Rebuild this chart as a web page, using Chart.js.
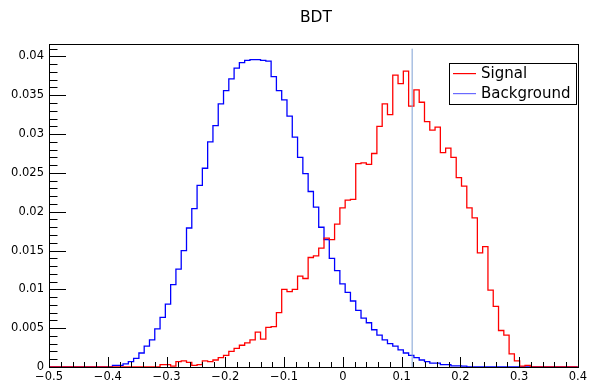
<!DOCTYPE html>
<html>
<head>
<meta charset="utf-8">
<script src="https://cdn.jsdelivr.net/npm/chart.js@4.4.1/dist/chart.umd.min.js"></script>
<style>
  html, body { margin:0; padding:0; background:#fff; }
  #wrap { width:590px; height:382px; }
</style>
</head>
<body>
<div id="wrap"><canvas id="bdt"></canvas></div>
<script>
/* ── BDT response histograms ── */
const X_MIN = -0.5, X_MAX = 0.4, N_BINS = 100;
const Y_MAX = 0.0416;
const CUT_VALUE = 0.118;
const TITLE = 'BDT';
const SERIES_NAMES = ['Signal', 'Background'];

const SIGNAL = [
  0,0,0,0,0,0,0,0,0,0, 0,0,0,0,0,0,0,0,0,0,
  0,0.0003,0.0003,0.0001,0.0007,0.0008,0.0006,0.0002,0.0003,0.0008,
  0.0007,0.0009,0.0012,0.0015,0.0020,0.0024,0.0028,0.0031,0.0035,0.0045,
  0.0036,0.0051,0.0052,0.0070,0.0100,0.0097,0.0100,0.0117,0.0114,0.0141,
  0.0143,0.0153,0.0166,0.0164,0.0184,0.0205,0.0215,0.0216,0.0262,0.0263,
  0.0261,0.0275,0.0310,0.0339,0.0325,0.0376,0.0365,0.0381,0.0336,0.0357,
  0.0341,0.0316,0.0305,0.0309,0.0276,0.0282,0.0270,0.0244,0.0233,0.0205,
  0.0192,0.0147,0.0155,0.0099,0.0078,0.0047,0.0041,0.0017,0.0008,0.0001,
  0.0002,0,0,0,0,0,0,0,0,0
];

const BACKGROUND = [
  0,0,0,0,0,0,0,0,0,0,
  0,0,0.0002,0.0002,0.0004,0.0007,0.0011,0.0018,0.0027,0.0035,
  0.0049,0.0064,0.0081,0.0106,0.0126,0.0150,0.0179,0.0204,0.0234,0.0256,
  0.0290,0.0311,0.0339,0.0356,0.0371,0.0385,0.0392,0.0395,0.0396,0.0396,
  0.0395,0.0394,0.0374,0.0356,0.0344,0.0323,0.0296,0.0270,0.0249,0.0226,
  0.0206,0.0180,0.0164,0.0140,0.0124,0.0107,0.0096,0.0085,0.0073,0.0063,
  0.0057,0.0048,0.0041,0.0035,0.0030,0.0027,0.0022,0.0018,0.0015,0.0012,
  0.0009,0.0007,0.0005,0.0005,0.0003,0.0003,0.00015,0.00015,0.0001,0,
  0,0,0,0,0,0,0,0,0,0, 0,0,0,0,0,0,0,0,0,0
];

const BIN_W = (X_MAX - X_MIN) / N_BINS;
const BIN_EDGES = Array.from({length:N_BINS + 1}, (_, i) => X_MIN + i * BIN_W);

// left-edge points + closing point, drawn with step-before interpolation
function histPoints(vals) {
  const pts = vals.map((v, i) => ({ x: BIN_EDGES[i], y: v }));
  pts.push({ x: BIN_EDGES[N_BINS], y: vals[N_BINS - 1] });
  return pts;
}

const FONT = 'DejaVu Sans';
Chart.defaults.font.family = FONT;

/* ── ROOT-like frame, inner ticks, title and legend ── */
const rootStyle = {
  id: 'rootStyle',
  afterDatasetsDraw(chart) {
    const { ctx, chartArea: a, scales: { x, y } } = chart;
    ctx.save();
    ctx.strokeStyle = '#000';
    ctx.lineWidth = 1;
    ctx.beginPath();
    // x ticks (inside, pointing up)
    for (let v = X_MIN; v <= X_MAX + 1e-9; v += 0.02) {
      const px = Math.round(x.getPixelForValue(v)) + 0.5;
      const major = Math.abs(Math.round(v * 10) - v * 10) < 1e-6;
      ctx.moveTo(px, a.bottom);
      ctx.lineTo(px, a.bottom - (major ? 10 : 5));
    }
    // y ticks (inside, pointing right)
    for (let v = 0; v <= Y_MAX + 1e-9; v += 0.001) {
      const py = Math.round(y.getPixelForValue(v)) + 0.5;
      const major = Math.abs(Math.round(v * 200) - v * 200) < 1e-6;
      ctx.moveTo(a.left, py);
      ctx.lineTo(a.left + (major ? 17 : 8.5), py);
    }
    ctx.stroke();
    // frame
    ctx.strokeRect(Math.round(a.left) + 0.5, Math.round(a.top) + 0.5,
                   Math.round(a.right - a.left), Math.round(a.bottom - a.top));
    // title
    ctx.fillStyle = '#000';
    ctx.font = '15.5px "' + FONT + '"';
    ctx.textAlign = 'center';
    ctx.textBaseline = 'middle';
    ctx.fillText(TITLE, 316, 18);
    // legend
    const lx = 449.5, ly = 63.5, lw = 127, lh = 41;
    ctx.fillStyle = '#fff';
    ctx.fillRect(lx, ly, lw, lh);
    ctx.strokeStyle = '#000';
    ctx.strokeRect(lx, ly, lw, lh);
    const cols = ['#ff0000', '#6a6aff'];
    ctx.font = '15px "' + FONT + '"';
    ctx.textAlign = 'left';
    SERIES_NAMES.forEach((name, i) => {
      const yy = 73 + i * 20;
      ctx.fillStyle = cols[i];
      ctx.fillRect(453, yy, 23, 1.2);
      ctx.fillStyle = '#000';
      ctx.fillText(name, 481, yy + 1);
    });
    ctx.restore();
  }
};

const ctx = document.getElementById('bdt').getContext('2d');
new Chart(ctx, {
  type: 'line',
  data: {
    datasets: [
      { label: SERIES_NAMES[0], data: histPoints(SIGNAL), borderColor: '#ff0000', borderWidth: 1.3, stepped: 'before', pointRadius: 0, fill: false, order: 1 },
      { label: SERIES_NAMES[1], data: histPoints(BACKGROUND), borderColor: '#0000ff', borderWidth: 1.3, stepped: 'before', pointRadius: 0, fill: false, order: 2 },
      { label: 'cut', data: [{ x: CUT_VALUE, y: 0 }, { x: CUT_VALUE, y: 0.041 }], borderColor: '#7ea1d4', borderWidth: 1, pointRadius: 0, fill: false, order: 0 }
    ]
  },
  options: {
    responsive: true, maintainAspectRatio: false, animation: false,
    layout: { padding: { top: 44, right: 8, left: 0, bottom: 0 } },
    plugins: { legend: { display: false }, tooltip: { enabled: false }, title: { display: false } },
    scales: {
      x: {
        type: 'linear', min: X_MIN, max: X_MAX,
        afterFit: s => { s.height = 15; },
        grid: { display: false, drawTicks: false },
        border: { display: false },
        ticks: {
          stepSize: 0.1, includeBounds: false, padding: 3, color: '#000', maxRotation: 0,
          font: { size: 11.5 },
          callback: v => {
            const r = Math.round(v * 10) / 10;
            return r < 0 ? '\u2212' + Math.abs(r) : String(r);
          }
        }
      },
      y: {
        min: 0, max: Y_MAX,
        afterFit: s => { s.width = 49; },
        grid: { display: false, drawTicks: false },
        border: { display: false },
        ticks: {
          stepSize: 0.005, includeBounds: false, padding: 5, color: '#000',
          font: { size: 11.5 },
          callback: v => String(parseFloat(v.toFixed(3)))
        }
      }
    }
  },
  plugins: [rootStyle]
});
</script>
</body>
</html>
